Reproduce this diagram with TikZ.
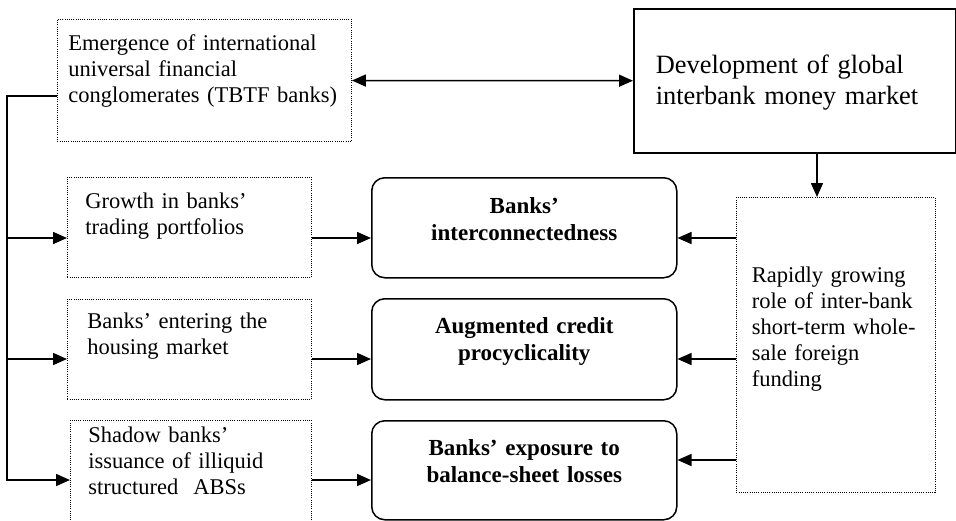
\documentclass[tikz,border=0pt]{standalone}
\usepackage{fontspec}
\setmainfont{Liberation Serif}
\usetikzlibrary{arrows.meta}

\begin{document}
\begin{tikzpicture}[
  x=1pt,y=-1pt,
  cause/.style={draw, line width=0.9pt, dash pattern=on 1pt off 1.2pt,
    anchor=north west, inner ysep=0pt, align=left,
    font=\fontsize{22.5}{26}\selectfont},
  market/.style={draw, line width=1.6pt, anchor=north west, inner ysep=0pt,
    align=left, font=\fontsize{26.4}{31}\selectfont},
  effect/.style={draw, line width=1.5pt, rounded corners=13pt,
    anchor=north west, inner sep=0pt, text width=305pt, align=center,
    font=\fontsize{23}{27}\selectfont\bfseries},
  ->,>={Triangle[length=14pt,width=12pt]},line width=1.5pt
]
\useasboundingbox (0,0) rectangle (956,520);

\node[cause, inner xsep=11pt, text width=272pt, text height=31pt, text depth=91pt]
  (emerg) at (57,19) {Emergence of international\\ universal financial\\ conglomerates (TBTF banks)};
\node[market, inner xsep=22pt, text width=278pt, text height=65pt, text depth=79pt]
  (devel) at (633,8) {Development of global\\ interbank money market};
\node[cause, inner xsep=18pt, text width=208pt, text height=31pt, text depth=69pt]
  (growth) at (67,177) {Growth in banks’\\ trading portfolios};
\node[cause, inner xsep=20pt, text width=204pt, text height=29pt, text depth=71pt]
  (enter) at (67,299) {Banks’ entering the\\ housing market};
\node[cause, inner xsep=18pt, text width=205pt, text height=22pt, text depth=79pt]
  (shadow) at (70,420) {Shadow banks’\\ issuance of illiquid\\ structured~ ABSs};
\node[cause, inner xsep=15.5pt, text width=168pt, text height=85pt, text depth=210pt]
  (rapid) at (736,197) {Rapidly growing\\ role of inter-bank\\ short-term whole-\\ sale foreign\\ funding};

\node[effect, text height=36pt, text depth=64pt] (inter) at (371,177) {Banks’\\ interconnectedness};
\node[effect, text height=35pt, text depth=66pt] (procyc) at (371,298) {Augmented credit\\ procyclicality};
\node[effect, text height=35pt, text depth=64pt] (expo) at (371,420) {Banks’ exposure to\\ balance-sheet losses};

% arrow levels
\coordinate (tap) at (7,96);
\coordinate (drop) at (817,0);
\coordinate (row1) at (0,238);
\coordinate (row2) at (0,359);
\coordinate (row3) at (0,480);
\coordinate (row3r) at (0,460);

\draw[<->] (emerg) -- (devel);
\draw (devel.south -| drop) -- (rapid.north -| drop);

\draw (emerg.west |- tap) -- (tap) -- (tap |- row3) -- (shadow.west |- row3);
\draw (tap |- row1) -- (growth.west |- row1);
\draw (tap |- row2) -- (enter.west |- row2);

\draw (growth.east |- row1) -- (inter.west |- row1);
\draw (enter.east |- row2) -- (procyc.west |- row2);
\draw (shadow.east |- row3) -- (expo.west |- row3);

\draw (rapid.west |- row1) -- (inter.east |- row1);
\draw (rapid.west |- row2) -- (procyc.east |- row2);
\draw (rapid.west |- row3r) -- (expo.east |- row3r);
\end{tikzpicture}
\end{document}
